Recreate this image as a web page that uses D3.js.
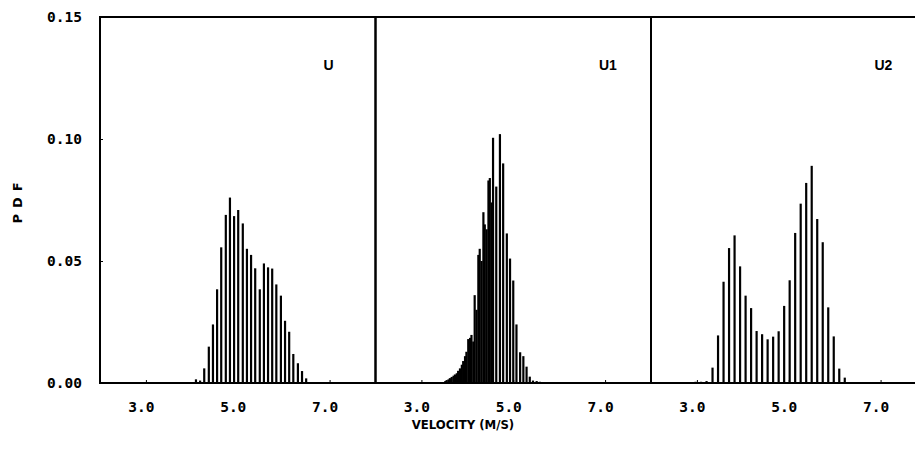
<!DOCTYPE html>
<html>
<head>
<meta charset="utf-8">
<script src="https://cdn.jsdelivr.net/npm/d3@7"></script>
<style>
  body { margin: 0; background: #fff; }
  svg { display: block; }
  .tick text { font-family: "DejaVu Sans Mono", monospace; font-weight: bold; font-size: 14.5px; fill: #000; }
</style>
</head>
<body>
<svg id="chart" width="915" height="466"></svg>
<script>
// panel names and tick labels
const panelNames = ['U', 'U1', 'U2'];
const xTicks = [3.0, 5.0, 7.0];
const yTicks = [0.00, 0.05, 0.10, 0.15];

// U: velocity bin centres (m/s) and pdf values
const uVel = [4.09, 4.18, 4.27, 4.37, 4.46, 4.55, 4.64, 4.74, 4.83, 4.92, 5.01, 5.11, 5.20, 5.29,
  5.38, 5.48, 5.57, 5.66, 5.75, 5.84, 5.94, 6.03, 6.12, 6.21, 6.31, 6.40, 6.49];
const uPdf = [0.0015, 0.001, 0.006, 0.0149, 0.024, 0.0384, 0.0556, 0.0689, 0.076, 0.0684, 0.0709, 0.0654,
  0.055, 0.0525, 0.047, 0.0384, 0.049, 0.0474, 0.0469, 0.0404, 0.0358, 0.0255, 0.021, 0.0119, 0.0081, 0.0049, 0.0019];

// U1: finer bins, dense on the low side
const u1Vel = [3.52, 3.55, 3.59, 3.62, 3.66, 3.70, 3.73, 3.77, 3.80, 3.84, 3.88, 3.91, 3.95, 3.98,
  4.02, 4.06, 4.09, 4.13, 4.16, 4.20, 4.24, 4.27, 4.31, 4.35, 4.38, 4.42, 4.46, 4.49, 4.53,
  4.56, 4.63, 4.71, 4.78, 4.86, 4.93, 5.00, 5.07, 5.15, 5.22, 5.29, 5.36, 5.43, 5.51, 5.58];
const u1Pdf = [0.0008, 0.0012, 0.0015, 0.002, 0.0025, 0.003, 0.0035, 0.004, 0.005, 0.006, 0.0075, 0.009, 0.011,
  0.0128, 0.018, 0.0185, 0.0197, 0.017, 0.036, 0.030, 0.0525, 0.055, 0.050, 0.070, 0.065, 0.063, 0.083, 0.084, 0.074,
  0.1005, 0.0805, 0.102, 0.090, 0.0613, 0.051, 0.042, 0.024, 0.0126, 0.011, 0.0067, 0.0026, 0.001, 0.0008, 0.0005];

// U2: bimodal
const u2Vel = [2.97, 3.09, 3.21, 3.34, 3.46, 3.58, 3.70, 3.82, 3.94, 4.06, 4.18, 4.30, 4.42, 4.54,
  4.66, 4.78, 4.90, 5.02, 5.14, 5.26, 5.38, 5.50, 5.62, 5.74, 5.86, 5.98, 6.10, 6.22];
const u2Pdf = [0.0005, 0.0005, 0.0008, 0.0063, 0.0195, 0.0415, 0.0553, 0.0605, 0.0478, 0.0358, 0.0307, 0.0213,
  0.020, 0.0179, 0.019, 0.0212, 0.0316, 0.0421, 0.0615, 0.0735, 0.082, 0.089, 0.0672, 0.0577, 0.031, 0.0191, 0.0059, 0.0022];

const series = [
  { vel: uVel, pdf: uPdf },
  { vel: u1Vel, pdf: u1Pdf },
  { vel: u2Vel, pdf: u2Pdf }
];

// layout
let plotLeft = 100, plotTop = 17, plotBottom = 383;
let panelWidth = 275.5;

let svg = d3.select('#chart');

let yScale = d3.scaleLinear()
  .domain([0, 0.15])
  .range([plotBottom, plotTop]);

series.forEach((s, i) => {
  let x0 = plotLeft + i * panelWidth;
  let xScale = d3.scaleLinear()
    .domain([2, 8])
    .range([x0, x0 + panelWidth]);

  let g = svg.append('g');

  // histogram spikes
  g.selectAll('line.bar')
    .data(s.vel.map((v, k) => ({ v: v, p: s.pdf[k] })))
    .enter()
    .append('line')
    .attr('class', 'bar')
    .attr('x1', d => xScale(d.v))
    .attr('x2', d => xScale(d.v))
    .attr('y1', yScale(0))
    .attr('y2', d => yScale(d.p))
    .attr('stroke', '#000')
    .attr('stroke-width', 2.2);

  // bottom axis with inward ticks
  let ax = g.append('g')
    .attr('transform', 'translate(0,' + plotBottom + ')')
    .call(d3.axisBottom(xScale)
      .tickValues(xTicks)
      .tickFormat(d3.format('.1f'))
      .tickSizeInner(-3)
      .tickSizeOuter(0)
      .tickPadding(19));
  ax.select('.domain').remove();
  ax.selectAll('.tick line').attr('stroke', '#000');
  ax.selectAll('.tick text').attr('dx', -5);

  // panel frame
  g.append('rect')
    .attr('x', x0)
    .attr('y', plotTop)
    .attr('width', panelWidth)
    .attr('height', plotBottom - plotTop)
    .attr('fill', 'none')
    .attr('stroke', '#000')
    .attr('stroke-width', 2);

  // panel name
  g.append('text')
    .attr('x', x0 + panelWidth - 52)
    .attr('y', 70)
    .style('font-family', 'Liberation Sans, Arial, sans-serif')
    .style('font-weight', 'bold')
    .style('font-size', '14px')
    .text(panelNames[i]);
});

// y axis on the first panel
let yAx = svg.append('g')
  .attr('transform', 'translate(' + plotLeft + ',0)')
  .call(d3.axisLeft(yScale)
    .tickValues(yTicks)
    .tickFormat(d3.format('.2f'))
    .tickSizeInner(-3)
    .tickSizeOuter(0)
    .tickPadding(18));
yAx.select('.domain').remove();
yAx.selectAll('.tick line').attr('stroke', '#000');

// y axis title
svg.append('text')
  .attr('text-anchor', 'middle')
  .attr('transform', 'translate(22,' + (plotTop + plotBottom) / 2 + ') rotate(-90)')
  .style('font-family', 'DejaVu Sans, sans-serif')
  .style('font-weight', 'bold')
  .style('font-size', '13px')
  .style('letter-spacing', '6px')
  .text('PDF');

// x axis title
svg.append('text')
  .attr('text-anchor', 'middle')
  .attr('x', 463)
  .attr('y', 429)
  .style('font-family', 'DejaVu Sans Condensed, sans-serif')
  .style('font-weight', 'bold')
  .style('font-size', '13px')
  .text('VELOCITY (M/S)');
</script>
</body>
</html>
